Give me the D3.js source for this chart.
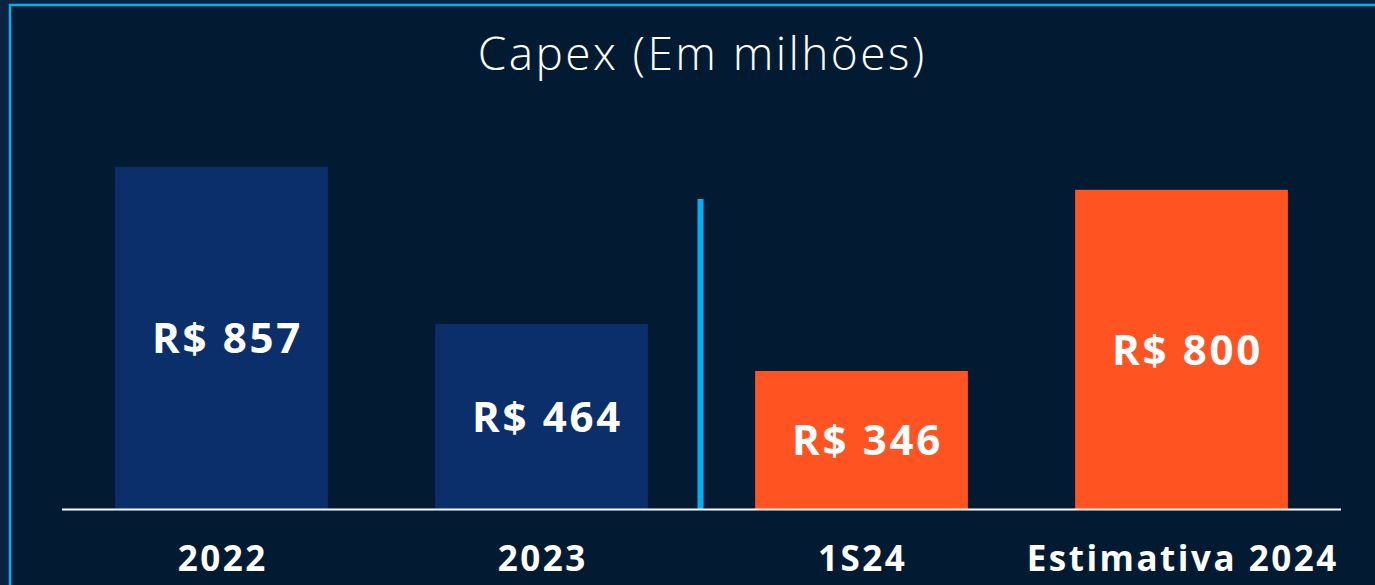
<!DOCTYPE html>
<html>
<head>
<meta charset="utf-8">
<script src="https://cdn.jsdelivr.net/npm/d3@7"></script>
<style>
  html, body { margin: 0; padding: 0; background: #0b2340; }
  svg { display: block; }
</style>
</head>
<body>
<div id="chart"></div>
<script>
const CATEGORIES = ['2022', '2023', '1S24', 'Estimativa 2024'];
const VALUES = [857, 464, 346, 800];
const VALUE_LABELS = ['R$ 857', 'R$ 464', 'R$ 346', 'R$ 800'];
const BAR_COLORS = ['#0b2f6b', '#0b2f6b', '#ff5322', '#ff5322'];
const TITLE = 'Capex (Em milhões)';

var width = 1375, height = 585;
var baseY = 509;

var svg = d3.select("#chart")
  .append("svg")
    .attr("width", width)
    .attr("height", height);

// inner panel with the light blue frame on top and left
svg.append("rect")
  .attr("x", 10).attr("y", 5)
  .attr("width", width - 10).attr("height", height - 5)
  .style("fill", "#021b33");
svg.append("path")
  .attr("d", "M10," + height + "V5H" + width)
  .style("fill", "none")
  .style("stroke", "#00b0f0")
  .style("stroke-width", 2.5);

// title
svg.append("text")
  .attr("x", 701).attr("y", 70)
  .attr("dx", 1.2)
  .attr("text-anchor", "middle")
  .style("font-family", "'Open Sans', sans-serif")
  .style("font-weight", 300)
  .style("font-size", "46px")
  .style("letter-spacing", "2.4px")
  .style("fill", "#ffffff")
  .text(TITLE);

var x = d3.scaleBand()
  .domain(CATEGORIES)
  .range([61.5, 1341.5])
  .paddingInner(0.335)
  .paddingOuter(0.1675);

var y = d3.scaleLinear()
  .domain([0, 1000])
  .range([baseY, baseY - 399]);

// bars
svg.selectAll("bar")
  .data(CATEGORIES)
  .enter().append("rect")
    .attr("x", function(d) { return x(d); })
    .attr("width", x.bandwidth())
    .attr("y", function(d, i) { return y(VALUES[i]); })
    .attr("height", function(d, i) { return baseY - y(VALUES[i]); })
    .style("fill", function(d, i) { return BAR_COLORS[i]; });

// value labels in the middle of each bar
svg.selectAll("valueLabel")
  .data(CATEGORIES)
  .enter().append("text")
    .attr("x", function(d) { return x(d) + x.bandwidth() / 2 + 6; })
    .attr("y", function(d, i) { return (y(VALUES[i]) + baseY) / 2 + 4; })
    .attr("text-anchor", "middle")
    .attr("dominant-baseline", "middle")
    .style("font-family", "'Open Sans', sans-serif")
    .style("font-weight", 700)
    .style("font-size", "42px")
    .style("letter-spacing", "2.7px")
    .style("fill", "#ffffff")
    .text(function(d, i) { return VALUE_LABELS[i]; });

// divider between realised and 2024
var divX = x(CATEGORIES[2]) - x.step() * x.paddingInner() / 2 - 1;
svg.append("line")
  .attr("x1", divX).attr("x2", divX)
  .attr("y1", 199).attr("y2", baseY)
  .style("stroke", "#00b0f0")
  .style("stroke-width", 6);

// baseline axis
var axis = svg.append("g")
  .attr("transform", "translate(0," + baseY + ")")
  .call(d3.axisBottom(x).tickSize(0).tickPadding(37));
axis.select(".domain")
  .attr("d", "M62,0.5H1341")
  .style("stroke", "#ffffff")
  .style("stroke-width", 2);
axis.selectAll("text")
  .attr("dx", 1.2)
  .style("font-family", "'Open Sans', sans-serif")
  .style("font-weight", 700)
  .style("font-size", "35px")
  .style("letter-spacing", "2.5px")
  .style("fill", "#ffffff");
</script>
</body>
</html>
